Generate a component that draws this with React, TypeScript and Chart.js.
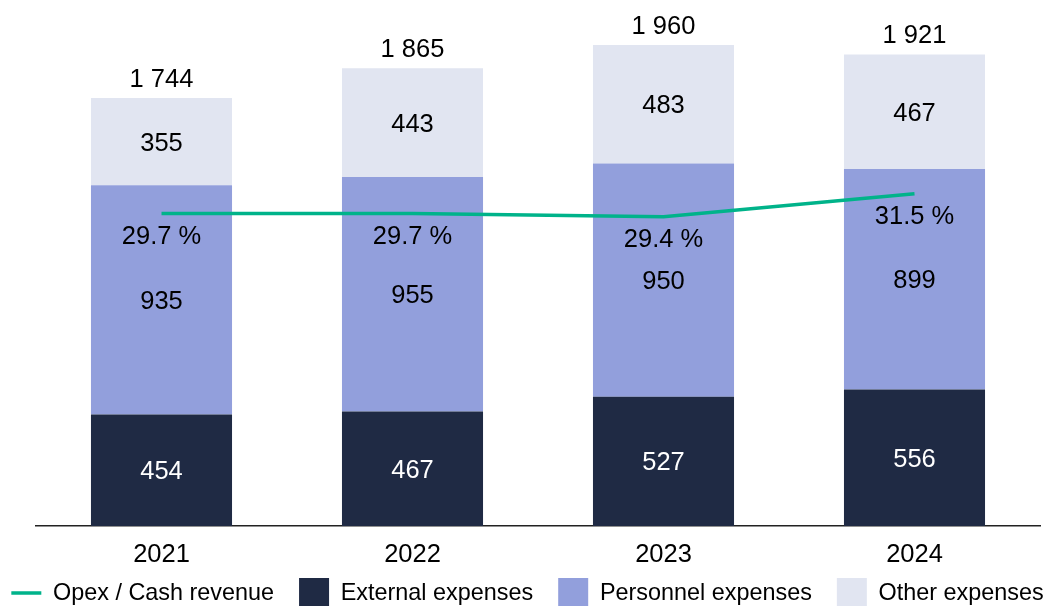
import React, { useEffect, useRef } from "react";
import { Chart, registerables } from "chart.js";

Chart.register(...registerables);

// ---- data ----
const categories = ["2021", "2022", "2023", "2024"];
const externalExpenses = [454, 467, 527, 556];
const personnelExpenses = [935, 955, 950, 899];
const otherExpenses = [355, 443, 483, 467];
const totalLabels = [1744, 1865, 1960, 1921];
const opexCashRevenue = [29.7, 29.7, 29.4, 31.5];

// ---- style ----
const FONT = '"Liberation Sans", Arial, Helvetica, sans-serif';
const C_EXTERNAL = "#1F2A44";
const C_PERSONNEL = "#929FDC";
const C_OTHER = "#E1E5F1";
const C_LINE = "#00B38A";
const TEXT_NUDGE = 2;

const fmtNum = (v: number) => String(Math.round(v)).replace(/\B(?=(\d{3})+(?!\d))/g, " ");
const fmtPct = (v: number) => v.toFixed(1) + " %";

const valueLabels = {
  id: "valueLabels",
  afterDatasetsDraw(chart: any) {
    const ctx = chart.ctx;
    ctx.save();
    ctx.font = `25.5px ${FONT}`;
    ctx.textAlign = "center";
    ctx.textBaseline = "middle";
    chart.data.datasets.forEach((ds: any, di: number) => {
      const meta = chart.getDatasetMeta(di);
      if (meta.hidden) return;
      meta.data.forEach((el: any, i: number) => {
        const p = el.getProps(["x", "y", "base"], true);
        if (ds.type === "line") {
          ctx.fillStyle = "#000";
          ctx.fillText(fmtPct(ds.data[i]), p.x, p.y + 21 + TEXT_NUDGE);
        } else {
          ctx.fillStyle = ds.labelColor || "#000";
          ctx.fillText(fmtNum(ds.data[i]), p.x, (p.y + p.base) / 2 + TEXT_NUDGE);
        }
      });
    });
    // totals above stacks
    const topMeta = chart.getDatasetMeta(chart.data.datasets.length - 1);
    topMeta.data.forEach((el: any, i: number) => {
      ctx.fillStyle = "#000";
      ctx.fillText(fmtNum(totalLabels[i]), el.x, el.y - 20 + TEXT_NUDGE);
    });
    ctx.restore();
  },
};

const bottomLegend = {
  id: "bottomLegend",
  afterDraw(chart: any) {
    const ctx = chart.ctx;
    const items = chart.data.datasets.map((ds: any) => ({
      label: ds.label,
      color: ds.type === "line" ? ds.borderColor : ds.backgroundColor,
      line: ds.type === "line",
    }));
    ctx.save();
    ctx.font = `23.4px ${FONT}`;
    ctx.textAlign = "left";
    ctx.textBaseline = "middle";
    const box = 30;
    const textGap = 11.7;
    const gap = 25;
    const widths = items.map((it: any) => box + textGap + ctx.measureText(it.label).width);
    const total = widths.reduce((a: number, b: number) => a + b, 0) + gap * (items.length - 1);
    let x = (chart.width - total) / 2 + 3;
    const cy = chart.height - 13;
    items.forEach((it: any, i: number) => {
      ctx.fillStyle = it.color;
      if (it.line) {
        ctx.fillRect(x, cy - 1.75, box, 3.5);
      } else {
        ctx.fillRect(x, cy - box / 2, box, box);
      }
      ctx.fillStyle = "#000";
      ctx.fillText(it.label, x + box + textGap, cy + 1);
      x += widths[i] + gap;
    });
    ctx.restore();
  },
};

export default function App() {
  const canvasRef = useRef<HTMLCanvasElement | null>(null);

  useEffect(() => {
    if (!canvasRef.current) return;
    const chart = new Chart(canvasRef.current, {
      type: "bar",
      data: {
        labels: categories,
        datasets: [
          {
            type: "line",
            label: "Opex / Cash revenue",
            data: opexCashRevenue,
            borderColor: C_LINE,
            backgroundColor: C_LINE,
            borderWidth: 3.5,
            pointRadius: 0,
            tension: 0,
            yAxisID: "y1",
          } as any,
          {
            type: "bar",
            label: "External expenses",
            data: externalExpenses,
            backgroundColor: C_EXTERNAL,
            labelColor: "#FFFFFF",
            yAxisID: "y",
          } as any,
          {
            type: "bar",
            label: "Personnel expenses",
            data: personnelExpenses,
            backgroundColor: C_PERSONNEL,
            labelColor: "#000000",
            yAxisID: "y",
          } as any,
          {
            type: "bar",
            label: "Other expenses",
            data: otherExpenses,
            backgroundColor: C_OTHER,
            labelColor: "#000000",
            yAxisID: "y",
          } as any,
        ],
      },
      options: {
        animation: false,
        responsive: true,
        maintainAspectRatio: false,
        events: [],
        layout: { padding: { left: 36, right: 9, top: 10.7, bottom: 40 } },
        datasets: {
          bar: { barPercentage: 0.562, categoryPercentage: 1, borderWidth: 0 },
        },
        plugins: {
          legend: { display: false },
          tooltip: { enabled: false },
        },
        scales: {
          x: {
            stacked: true,
            offset: true,
            grid: { display: false, drawTicks: false },
            border: { display: true, color: "#222222", width: 1.5 },
            ticks: {
              color: "#000",
              padding: 14,
              font: { family: FONT, size: 25.5 },
            },
            afterFit: (s: any) => {
              s.height = 40;
            },
          },
          y: {
            display: false,
            stacked: true,
            min: 0,
            max: 2100,
          },
          y1: {
            display: false,
            position: "right",
            min: 1.29,
            max: 48.14,
            grid: { display: false },
          },
        },
      },
      plugins: [valueLabels, bottomLegend],
    });
    return () => chart.destroy();
  }, []);

  return (
    <div style={{ position: "absolute", left: 0, top: 0, width: 1049, height: 606, background: "#fff" }}>
      <canvas ref={canvasRef} />
    </div>
  );
}
